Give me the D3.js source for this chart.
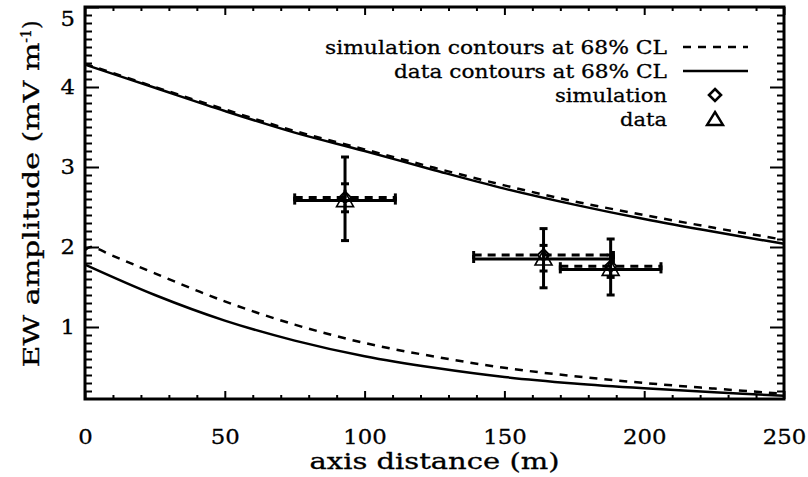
<!DOCTYPE html>
<html><head><meta charset="utf-8">
<script src="https://cdn.jsdelivr.net/npm/d3@7/dist/d3.min.js"></script>
<style>body{margin:0;background:#fff}</style>
</head><body>
<svg id="c" width="808" height="477" xmlns="http://www.w3.org/2000/svg"></svg>
<script>
// ---- data ----
const curveX      = [0, 25, 50, 75, 100, 125, 150, 175, 200, 225, 250];
const dataUpper   = [4.28, 3.99, 3.70, 3.43, 3.20, 2.96, 2.73, 2.53, 2.35, 2.19, 2.04];
const simUpper    = [4.29, 4.00, 3.72, 3.45, 3.22, 2.99, 2.77, 2.57, 2.40, 2.24, 2.09];
const dataLower   = [1.78, 1.40, 1.08, 0.83, 0.635, 0.49, 0.375, 0.295, 0.235, 0.185, 0.14];
const simLowerX   = [0, 2, 10, 25, 50, 75, 100, 125, 150, 175, 200, 225, 250];
const simLower    = [1.96, 2.00, 1.89, 1.67, 1.32, 1.03, 0.80, 0.63, 0.49, 0.385, 0.30, 0.23, 0.165];

const pointX   = [93, 164, 188];
const xErrLo   = [75, 139, 170];
const xErrHi   = [111, 189, 206];
const simY     = [2.62, 1.90, 1.76];
const simYLo   = [2.44, 1.70, 1.62];
const simYHi   = [2.79, 2.02, 1.90];
const dataY    = [2.58, 1.85, 1.72];
const dataYLo  = [2.08, 1.49, 1.40];
const dataYHi  = [3.125, 2.23, 2.10];

const xTicks = [0, 50, 100, 150, 200, 250];
const yTicks = [1, 2, 3, 4, 5];
const legendLabels = ["simulation contours at 68% CL", "data contours at 68% CL", "simulation", "data"];
const xTitle = "axis distance (m)";
const yTitle = "EW amplitude (mV m";

// ---- drawing ----
const FONT = "DejaVu Serif";
const svg = d3.select("#c");
const L = 85, R = 784, T = 7, B = 399;
const x = d3.scaleLinear().domain([0, 250]).range([L, R]);
const y = d3.scaleLinear().domain([0.1, 5]).range([B, T]);

const xMinor = d3.range(10, 250, 10).filter(v => v % 50 !== 0);
const yMinor = d3.range(2, 50).map(v => v / 10).filter(v => Math.abs(v - Math.round(v)) > 1e-6);

function textStyle(sel, size) {
  sel.attr("font-family", FONT).attr("font-size", size).attr("fill", "#000")
     .attr("stroke", "#000").attr("stroke-width", 0.3);
}
function style(g, withText) {
  g.select(".domain").remove();
  g.selectAll("line").attr("stroke", "#000").attr("stroke-width", 2);
  if (withText) {
    g.selectAll("text").call(s => textStyle(s, 21))
      .attr("textLength", function() { return 14.5 * this.textContent.length; })
      .attr("lengthAdjust", "spacingAndGlyphs");
  } else g.selectAll("text").remove();
}

// bottom
svg.append("g").attr("transform", `translate(0,${B})`)
  .call(d3.axisBottom(x).tickValues(xTicks).tickSize(-8).tickPadding(30).tickFormat(d3.format("d"))).call(g => style(g, true));
svg.append("g").attr("transform", `translate(0,${B})`)
  .call(d3.axisBottom(x).tickValues(xMinor).tickSize(-4)).call(g => style(g, false));
// top
svg.append("g").attr("transform", `translate(0,${T})`)
  .call(d3.axisTop(x).tickValues(xTicks).tickSize(-8)).call(g => style(g, false));
svg.append("g").attr("transform", `translate(0,${T})`)
  .call(d3.axisTop(x).tickValues(xMinor).tickSize(-4)).call(g => style(g, false));
// left
const gl = svg.append("g").attr("transform", `translate(${L},0)`)
  .call(d3.axisLeft(y).tickValues(yTicks).tickSize(-14).tickPadding(10).tickFormat(d3.format("d"))).call(g => style(g, true));
gl.selectAll(".tick").filter(d => d === 5).select("text").attr("y", 12);
svg.append("g").attr("transform", `translate(${L},0)`)
  .call(d3.axisLeft(y).tickValues(yMinor).tickSize(-7)).call(g => style(g, false));
// right
svg.append("g").attr("transform", `translate(${R},0)`)
  .call(d3.axisRight(y).tickValues(yTicks).tickSize(-14)).call(g => style(g, false));
svg.append("g").attr("transform", `translate(${R},0)`)
  .call(d3.axisRight(y).tickValues(yMinor).tickSize(-7)).call(g => style(g, false));

// frame
svg.append("rect").attr("x", L).attr("y", T).attr("width", R - L).attr("height", B - T)
  .attr("fill", "none").attr("stroke", "#000").attr("stroke-width", 3);

// curves
const line = d3.line().x(d => x(d[0])).y(d => y(d[1])).curve(d3.curveCatmullRom.alpha(0.5));
const plotG = svg.append("g");
function curve(xs, ys, dashed) {
  plotG.append("path").datum(xs.map((v, i) => [v, ys[i]])).attr("d", line)
    .attr("fill", "none").attr("stroke", "#000").attr("stroke-width", 2.5)
    .attr("stroke-dasharray", dashed ? "8,7" : null);
}
curve(curveX, simUpper, true);
curve(curveX, dataUpper, false);
curve(simLowerX, simLower, true);
curve(curveX, dataLower, false);

// error bars
function errBars(ys, yLo, yHi, dashed) {
  pointX.forEach((px, i) => {
    const g = plotG.append("g").attr("stroke", "#000").attr("stroke-width", 3).attr("fill", "none");
    g.append("line").attr("x1", x(xErrLo[i])).attr("x2", x(xErrHi[i])).attr("y1", y(ys[i])).attr("y2", y(ys[i]))
      .attr("stroke-dasharray", dashed ? "8,6" : null);
    g.append("line").attr("x1", x(xErrLo[i])).attr("x2", x(xErrLo[i])).attr("y1", y(ys[i]) - 4).attr("y2", y(ys[i]) + 4);
    g.append("line").attr("x1", x(xErrHi[i])).attr("x2", x(xErrHi[i])).attr("y1", y(ys[i]) - 4).attr("y2", y(ys[i]) + 4);
    g.append("line").attr("x1", x(px)).attr("x2", x(px)).attr("y1", y(yLo[i])).attr("y2", y(yHi[i]))
      .attr("stroke-dasharray", dashed ? "8,6" : null);
    g.append("line").attr("x1", x(px) - 4).attr("x2", x(px) + 4).attr("y1", y(yLo[i])).attr("y2", y(yLo[i]));
    g.append("line").attr("x1", x(px) - 4).attr("x2", x(px) + 4).attr("y1", y(yHi[i])).attr("y2", y(yHi[i]));
  });
}
errBars(simY, simYLo, simYHi, true);
errBars(dataY, dataYLo, dataYHi, false);

function diamond(g, cx, cy, r, w) {
  g.append("path").attr("d", `M${cx},${cy - r}L${cx + r},${cy}L${cx},${cy + r}L${cx - r},${cy}Z`)
    .attr("fill", "none").attr("stroke", "#000").attr("stroke-width", w);
}
function triangle(g, cx, cy, hw, up, down, w) {
  g.append("path").attr("d", `M${cx},${cy - up}L${cx + hw},${cy + down}L${cx - hw},${cy + down}Z`)
    .attr("fill", "none").attr("stroke", "#000").attr("stroke-width", w);
}
pointX.forEach((px, i) => diamond(plotG, x(px), y(simY[i]), 6, 1.8));
pointX.forEach((px, i) => triangle(plotG, x(px), y(dataY[i]), 8.5, 9, 6, 1.6));

// legend
const lg = svg.append("g");
const rowY = [47, 71, 95, 119];
const legendWidths = [342, 273, 112, 47];
legendLabels.forEach((t, i) => {
  lg.append("text").attr("x", 667).attr("y", rowY[i]).attr("dy", "0.35em").attr("text-anchor", "end")
    .call(s => textStyle(s, 19))
    .attr("textLength", legendWidths[i]).attr("lengthAdjust", "spacingAndGlyphs").text(t);
});
lg.append("line").attr("x1", 683).attr("x2", 748).attr("y1", rowY[0]).attr("y2", rowY[0])
  .attr("stroke", "#000").attr("stroke-width", 2.5).attr("stroke-dasharray", "8,7");
lg.append("line").attr("x1", 683).attr("x2", 748).attr("y1", rowY[1]).attr("y2", rowY[1])
  .attr("stroke", "#000").attr("stroke-width", 2.5);
diamond(lg, 715, rowY[2], 6, 2.6);
triangle(lg, 715, rowY[3], 8, 7, 6, 2.4);

// titles
svg.append("text").attr("x", (L + R) / 2).attr("y", 469).attr("text-anchor", "middle")
  .call(s => textStyle(s, 22))
  .attr("textLength", 250).attr("lengthAdjust", "spacingAndGlyphs").text(xTitle);
const yt = svg.append("text").attr("transform", `translate(39,${(13 + 375) / 2}) rotate(-90)`).attr("text-anchor", "middle")
  .call(s => textStyle(s, 22));
yt.append("tspan").attr("textLength", 325).attr("lengthAdjust", "spacingAndGlyphs").text(yTitle);
yt.append("tspan").attr("font-size", 14).attr("dy", "-0.6em").text("-1");
yt.append("tspan").attr("dy", "0.4em").text(")");
</script>
</body></html>
